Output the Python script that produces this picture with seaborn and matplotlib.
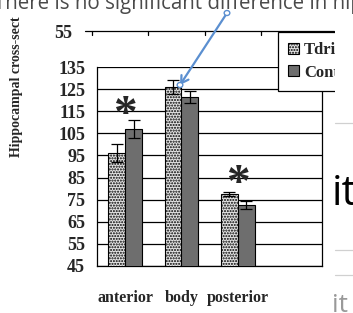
import matplotlib
matplotlib.use("Agg")
import matplotlib.pyplot as plt
import seaborn as sns
import pandas as pd
from matplotlib.lines import Line2D
from matplotlib.patches import FancyArrowPatch, Circle, Patch, Rectangle

regions = ["anterior", "body", "posterior"]
groups = ["Tdrinkers", "Controls"]
tdri_vals = [96, 126, 77.5]
cont_vals = [107, 121.5, 72.5]
tdri_err = [4, 3, 1]
cont_err = [4, 2.7, 1.8]
yticks = [45, 55, 65, 75, 85, 95, 105, 115, 125, 135]
star_regions = ["anterior", "posterior"]
star_y = [113, 81.5]

df = pd.DataFrame({
    "region": regions * 2,
    "group": [groups[0]] * 3 + [groups[1]] * 3,
    "value": tdri_vals + cont_vals,
})

sns.set_style("white")
plt.rcParams["font.family"] = ["Liberation Serif", "DejaVu Serif"]
plt.rcParams["hatch.color"] = "#808080"
plt.rcParams["hatch.linewidth"] = 1.0

W, H = 353, 313
fig = plt.figure(figsize=(W / 100, H / 100), dpi=100)
fig.patch.set_facecolor("white")

def fx(px):
    return px / W

def fy(py):
    return 1 - py / H

ax = fig.add_axes([fx(97), fy(266), fx(322) - fx(97), fy(67) - fy(266)])
sns.barplot(data=df, x="region", y="value", hue="group", order=regions,
            hue_order=groups, palette=["#e4e4e4", "#6e6e6e"], width=0.6,
            errorbar=None, edgecolor="black", linewidth=0.8, ax=ax,
            legend=False, zorder=3)

errs = [tdri_err, cont_err]
vals = [tdri_vals, cont_vals]
bar_containers = list(ax.containers)[:2]
for ci, cont in enumerate(bar_containers):
    xs = [b.get_x() + b.get_width() / 2 for b in cont]
    if ci == 0:
        for b in cont:
            b.set_hatch("......")
    ax.errorbar(xs, vals[ci], yerr=errs[ci], fmt="none", ecolor="black",
                elinewidth=0.9, capsize=4, capthick=0.9, zorder=4)

ax.set_xlim(-0.5, 3.5)
ax.set_ylim(45, 135)
ax.set_yticks(yticks)
ax.set_yticklabels([str(t) for t in yticks], fontsize=13, fontweight="bold")
ax.set_xticks(range(len(regions)))
ax.set_xticklabels(regions, fontsize=11.5, fontweight="bold")
ax.set_xticks([-0.5, 0.5, 1.5, 2.5, 3.5], minor=True)
ax.tick_params(axis="x", which="major", length=0, pad=17)
ax.tick_params(axis="x", which="minor", length=5, width=0.9, direction="out", color="black")
ax.tick_params(axis="y", length=7, width=0.9, direction="out", color="black", pad=1.5)
ax.set_xlabel("")
ax.set_ylabel("")
for s in ["left", "right", "bottom"]:
    ax.spines[s].set_color("black")
    ax.spines[s].set_linewidth(0.9)
ax.spines["top"].set_visible(False)
ax.yaxis.grid(True, color="black", linewidth=0.9)
ax.set_axisbelow(True)

for r, yv in zip(star_regions, star_y):
    ax.text(regions.index(r), yv, "*", fontsize=34, fontweight="bold",
            ha="center", va="center", zorder=5)

# legend
handles = [Patch(facecolor="#e4e4e4", edgecolor="black", hatch="......", linewidth=0.8),
           Patch(facecolor="#6e6e6e", edgecolor="black", linewidth=0.8)]
leg = fig.legend(handles, groups, loc="upper left",
                 bbox_to_anchor=(fx(278), fy(32)), bbox_transform=fig.transFigure,
                 frameon=True, fancybox=False, framealpha=1, edgecolor="black",
                 prop={"family": "Liberation Serif", "weight": "bold", "size": 12},
                 handlelength=0.65, handleheight=0.65, handletextpad=0.3,
                 borderpad=0.6, labelspacing=0.4, borderaxespad=0)
leg.get_frame().set_linewidth(0.9)
leg.set_zorder(10)

# chart image ends at x = 334: white strip beyond it
fig.add_artist(Rectangle((fx(334.5), fy(165)), fx(353) - fx(334.5) + 0.01, fy(14) - fy(165),
                         transform=fig.transFigure, facecolor="white", edgecolor="none",
                         zorder=15))

# y label
fig.text(fx(17), fy(157), "Hippocampal cross-sect", rotation=90, fontsize=10,
         fontweight="bold", ha="center", va="bottom")

# top fragment line with ticks
fig.add_artist(Line2D([fx(85), fx(334)], [fy(31), fy(31)], color="black", lw=0.9))
for tx in [92, 148, 205, 261]:
    fig.add_artist(Line2D([fx(tx), fx(tx)], [fy(31), fy(35)], color="black", lw=0.9))
fig.text(fx(72), fy(34), "55", fontsize=13, fontweight="bold", ha="right", va="center")

# title fragment
fig.text(fx(-6), fy(9), "There is no significant difference in hippocampal",
         fontsize=14.8, family=["Open Sans", "DejaVu Sans"], color="#4a4a4a",
         ha="left", va="baseline", zorder=30)

# right-side fragments
fig.text(fx(332), fy(205), "it", fontsize=30, family=["Open Sans", "DejaVu Sans"],
         color="black", ha="left", va="baseline", zorder=30)
fig.text(fx(332), fy(312), "it", fontsize=19, family=["Open Sans", "DejaVu Sans"],
         color="#999999", ha="left", va="baseline", zorder=30)
for gy in [123, 250, 275]:
    fig.add_artist(Line2D([fx(335), fx(353)], [fy(gy), fy(gy)], color="#d0d0d0", lw=0.9,
                          zorder=30))

# blue arrow
arrow = FancyArrowPatch((fx(227), fy(13)), (fx(180), fy(85)), transform=fig.transFigure,
                        arrowstyle="->,head_length=5,head_width=3", color="#5b8fd0",
                        lw=1.6, zorder=40, shrinkA=0, shrinkB=0)
fig.add_artist(arrow)
for cx, cy in [(227, 13), (180, 85)]:
    fig.add_artist(Circle((fx(cx), fy(cy)), radius=0.008, transform=fig.transFigure,
                          facecolor="white", edgecolor="#5b8fd0", lw=1, zorder=41))

fig.savefig("out.png", dpi=100)
